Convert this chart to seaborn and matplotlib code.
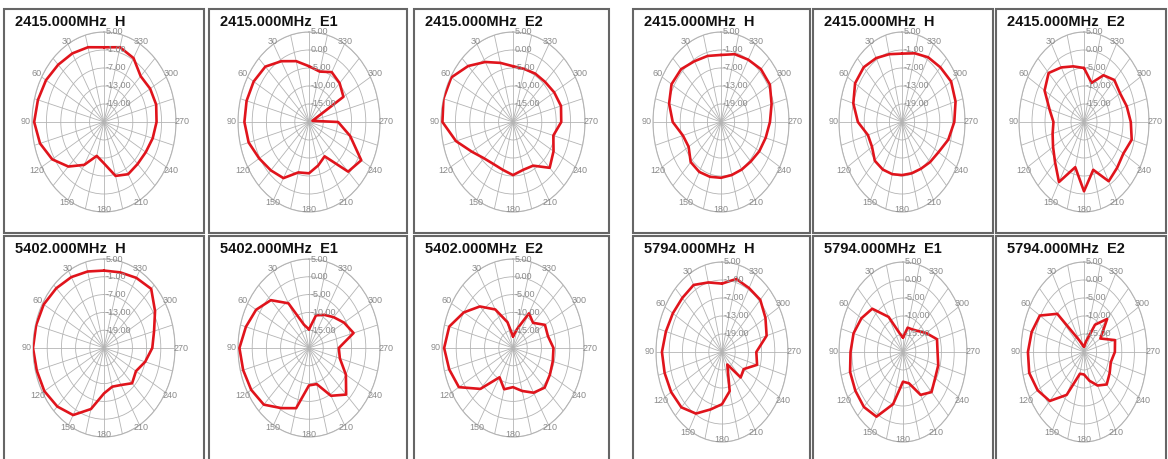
import numpy as np
import pandas as pd
import seaborn as sns
import matplotlib.pyplot as plt
import matplotlib.transforms as mtransforms
from matplotlib.patches import Rectangle

# angles (deg, counter-clockwise from top) at which the gain was read
angles_deg = [0, 15, 30, 45, 60, 75, 90, 105, 120, 135, 150, 165,
              180, 195, 210, 225, 240, 255, 270, 285, 300, 315, 330, 345]

# gain in dB
gain_2415_h_a = [-0.1, 0.8, 1.4, 2.0, 2.9, 3.5, 4.1, 2.6, -0.1, -4.0, -8.5, -13.3,
                 -11.2, -6.4, -4.9, -5.2, -4.9, -4.0, -3.1, -2.5, -2.8, -3.4, -0.4, 0.8]
gain_2415_e1_a = [-4.5, -2.5, -0.5, 1.75, 2.5, 2.75, 2.75, 2.0, 0.25, -1.0, -2.0, -5.5,
                  -5.75, -7.5, -9.0, -0.5, 1.25, -5.0, -9.75, -18.75, -6.0, -4.75, -4.0, -5.5]
gain_2415_e2_a = [-4.5, -3.0, -0.75, 2.0, 4.75, 5.0, 4.5, 0.5, -3.5, -5.75, -6.5, -6.25,
                  -5.25, -6.25, -6.0, -2.0, -3.75, -5.5, -3.25, -2.75, -3.5, -4.25, -4.5, -4.75]
gain_2415_h_b = [-2.65, -2.2, -1.6, -0.1, 0.2, -1.3, -3.7, -7.6, -8.5, -6.1, -5.8, -6.1,
                 -6.4, -6.7, -6.7, -6.4, -5.5, -4.6, -3.4, -1.9, -0.1, -0.1, -1.0, -1.6]
gain_2415_h_c = [-2.2, -1.6, -0.4, 0.8, 0.8, -1.0, -4.0, -8.2, -8.5, -6.7, -6.7, -7.0,
                 -7.3, -7.3, -7.0, -6.1, -4.9, -2.2, -0.1, 1.4, 2.0, 0.8, -0.1, -1.3]
gain_2415_e2_b = [-5.0, -4.0, -2.5, -0.75, -2.5, -6.25, -8.25, -7.5, -6.25, -4.25, -0.75, -7.0,
                  -0.75, -6.25, -1.0, -2.0, -2.5, -1.0, -2.0, -3.0, -4.0, -3.5, -5.0, -8.75]
gain_5402_h = [1.1, 1.7, 2.6, 3.5, 4.4, 4.7, 5.0, 4.4, 4.1, 2.9, 1.1, -3.7,
               -9.7, -11.5, -10.6, -8.2, -9.4, -7.0, -4.6, -3.1, -0.1, 3.2, 2.3, 1.4]
gain_5402_e1 = [-14.75, -13.25, -5.5, -1.0, 1.5, 3.0, 4.5, 4.0, 3.5, 2.5, -0.5, -2.5,
                -9.5, -9.5, -4.5, -1.5, -5.0, -8.75, -9.5, -3.75, -5.75, -7.75, -9.25, -10.5]
gain_5402_e2 = [-16.75, -12.5, -7.5, -3.5, 0.0, 3.25, 4.25, 3.25, 2.0, -3.75, -10.5, -8.0,
                -9.0, -7.5, -5.5, -4.25, -5.0, -5.5, -5.75, -7.25, -7.0, -10.0, -8.75, -14.5]
gain_5794_h = [-2.2, -1.0, 0.8, 0.5, 0.8, 1.4, 2.3, 2.0, 1.7, 1.1, -1.3, -5.2,
               -7.6, -11.5, -20.2, -13.0, -13.6, -8.5, -9.4, -4.0, -2.2, -0.4, -0.4, 0.2]
gain_5794_e1 = [-16.0, -14.5, -8.75, -3.0, -1.25, 0.0, 0.5, 1.4, 1.5, 1.6, 0.75, -5.0,
                -11.75, -11.0, -6.25, -4.25, -5.5, -5.75, -6.5, -6.25, -9.5, -11.75, -12.75, -13.0]
gain_5794_e2 = [-18.5, -18.0, -16.25, -5.0, 0.25, 1.5, 2.25, 2.5, 1.25, -0.75, -6.25, -13.75,
                -13.75, -11.75, -9.25, -7.25, -8.25, -9.0, -7.75, -7.25, -12.5, -7.0, -11.25, -17.0]

titles = ['2415.000MHz  H', '2415.000MHz  E1', '2415.000MHz  E2',
          '2415.000MHz  H', '2415.000MHz  H', '2415.000MHz  E2',
          '5402.000MHz  H', '5402.000MHz  E1', '5402.000MHz  E2',
          '5794.000MHz  H', '5794.000MHz  E1', '5794.000MHz  E2']
gains = [gain_2415_h_a, gain_2415_e1_a, gain_2415_e2_a,
         gain_2415_h_b, gain_2415_h_c, gain_2415_e2_b,
         gain_5402_h, gain_5402_e1, gain_5402_e2,
         gain_5794_h, gain_5794_e1, gain_5794_e2]

# radial scales: H uses 6 dB rings, E uses 5 dB rings
h_ticks = [5, -1, -7, -13, -19]
e_ticks = [5, 0, -5, -10, -15]
angle_labels = [30, 60, 90, 120, 150, 180, 210, 240, 270, 300, 330]

# layout in pixels: panel frame and ellipse (cx, cy, rx, ry)
boxes = [(4, 9, 204, 233), (209, 9, 407, 233), (414, 9, 609, 233),
         (633, 9, 810, 233), (813, 9, 993, 233), (996, 9, 1166, 233),
         (4, 236, 204, 470), (209, 236, 407, 470), (414, 236, 609, 470),
         (633, 236, 810, 470), (813, 236, 993, 470), (996, 236, 1166, 470)]
ellipses = [(104, 122, 72, 90), (309, 122, 71, 90), (513, 122, 72, 90),
            (721, 122, 68, 90), (902, 122, 63, 90), (1084, 122, 65, 90),
            (104, 348, 71, 89), (309, 348, 71, 89), (513, 348, 71, 89),
            (722, 352, 66, 90), (903, 352, 64, 90), (1084, 352, 63, 90)]

sns.set_style('white')
plt.rcParams['font.family'] = ['Liberation Sans', 'DejaVu Sans']

W, H = 1168, 459
fig = plt.figure(figsize=(W / 100, H / 100), dpi=100)

grid_col = '#b4b4b4'
label_col = '#8a8a8a'

for title, g, box, ell in zip(titles, gains, boxes, ellipses):
    bx0, by0, bx1, by1 = box
    fig.add_artist(Rectangle((bx0 / W, 1 - by1 / H), (bx1 - bx0) / W, (by1 - by0) / H,
                             transform=fig.transFigure, fill=False, ec='#666666', lw=1.5))
    fig.text((bx0 + 11) / W, 1 - (by0 + 6) / H, title, fontsize=10.5,
             fontweight='bold', ha='left', va='top', color='#111111')

    cx, cy, rx, ry = ell
    ax = fig.add_axes([(cx - rx) / W, 1 - (cy + ry) / H, 2 * rx / W, 2 * ry / H],
                      projection='polar')
    ax.set_aspect('auto')
    ax.set_theta_zero_location('N')
    ax.set_theta_direction(1)

    theta = np.deg2rad(angles_deg + [360])
    df = pd.DataFrame({'theta': theta, 'gain': g + g[:1]})
    sns.lineplot(data=df, x='theta', y='gain', ax=ax, sort=False,
                 color='#e0141c', lw=1.9, zorder=5)

    ticks = e_ticks if 'E' in title.split()[-1] else h_ticks
    rmin = ticks[-1] - (ticks[0] - ticks[1])
    ax.set_ylim(rmin, 5)
    ax.set_yticks(ticks)
    ax.set_yticklabels([])
    ax.set_thetagrids(angles_deg, labels=[])
    ax.grid(True, color=grid_col, lw=0.6)
    ax.spines['polar'].set_color(grid_col)
    ax.spines['polar'].set_linewidth(0.8)
    ax.set_xlabel('')
    ax.set_ylabel('')

    # ring values just right of the 0 deg spoke
    shifted = mtransforms.offset_copy(ax.transData, fig=fig, x=1.5, y=0, units='points')
    for t in ticks:
        ax.text(0, t, f'{t:.2f}', transform=shifted, ha='left', va='center',
                fontsize=6.5, color=label_col, zorder=6)

    # angle labels sitting on / just outside the outer ring
    span = 5 - rmin
    for a in angle_labels:
        r_lab = rmin + span * (0.97 + 0.12 * abs(np.sin(np.deg2rad(a))))
        ax.text(np.deg2rad(a), r_lab, str(a), ha='center', va='center',
                fontsize=6.5, color=label_col, clip_on=False, zorder=6)

fig.savefig('out.png', dpi=100)
